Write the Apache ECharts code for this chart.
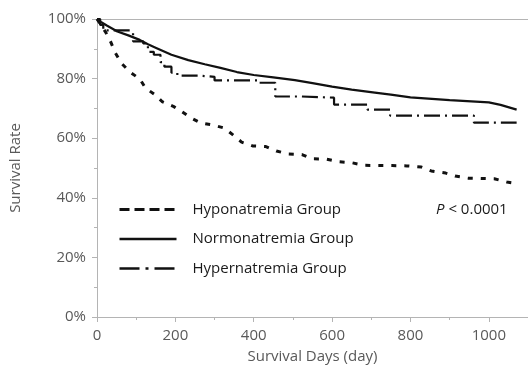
<!DOCTYPE html>
<html>
<head>
<meta charset="utf-8">
<script src="https://cdn.jsdelivr.net/npm/echarts@6/dist/echarts.min.js"></script>
<style>
  html, body { margin: 0; padding: 0; background: #fff; }
  #chart { width: 528px; height: 369px; }
</style>
</head>
<body>
<div id="chart"></div>
<script>
// survival curves, [day, survival %]
const hypoCurve = [
  [0, 100], [22, 95.6], [35, 92.3], [47, 88.6], [62, 85.2], [84, 82.2], [109, 79.9],
  [124, 76.8], [149, 74.5], [166, 72.3], [196, 70.6], [218, 68.8], [240, 66.8],
  [265, 65.1], [297, 64.4], [325, 63.4], [347, 61.1], [369, 58.7], [397, 57.4],
  [431, 57.2], [458, 55.7], [488, 54.7], [523, 54.5], [548, 53.1], [585, 53.0],
  [617, 52.1], [649, 51.8], [682, 50.9], [753, 50.8], [791, 50.7], [828, 50.3],
  [853, 49.0], [890, 48.3], [914, 47.3], [947, 46.6], [1014, 46.4], [1046, 45.3],
  [1071, 44.8]
];
const normoCurve = [
  [0, 100], [10, 99], [25, 97.8], [52, 95.8], [80, 94.5], [109, 93], [130, 91.5],
  [151, 90.3], [190, 88], [233, 86.2], [275, 84.8], [315, 83.6], [357, 82.2],
  [400, 81.2], [450, 80.4], [505, 79.5], [550, 78.5], [600, 77.3], [650, 76.3],
  [704, 75.4], [750, 74.6], [800, 73.7], [900, 72.8], [1000, 72.0], [1030, 71.2],
  [1071, 69.6]
];
const hyperCurve = [
  [0, 100], [8, 98], [16, 96.2], [85, 95.6], [92, 92.5], [118, 91.8], [130, 89],
  [145, 88], [162, 85.5], [172, 84], [190, 82], [205, 81], [260, 80.6], [300, 79.4],
  [410, 78.6], [455, 74], [520, 73.6], [605, 71.3], [690, 69.6], [748, 67.6],
  [962, 65.2], [1071, 65.2]
];
const groupNames = ['Hyponatremia Group', 'Normonatremia Group', 'Hypernatremia Group'];

const chart = echarts.init(document.getElementById('chart'));
const font = '"Open Sans", "Noto Sans", sans-serif';
const axisGray = '#b4b4b4';
const hidden = { opacity: 0, color: 'rgba(0,0,0,0)', borderWidth: 0 };

chart.setOption({
  animation: false,
  color: ['#111', '#111', '#111'],
  grid: { left: 96, top: 19, width: 444, height: 298 },
  legend: {
    orient: 'vertical',
    left: 113,
    top: 197,
    itemWidth: 57,
    itemHeight: 14,
    itemGap: 14.5,
    textStyle: { fontFamily: font, fontSize: 15, color: '#1a1a1a', padding: [0, 0, 0, 11] },
    data: [
      { name: groupNames[0], itemStyle: hidden, lineStyle: { type: [10, 5], width: 3 } },
      { name: groupNames[1], itemStyle: hidden, lineStyle: { type: 'solid', width: 2.5 } },
      { name: groupNames[2], itemStyle: hidden, lineStyle: { type: [20, 6, 3, 6], width: 2.5 } }
    ]
  },
  xAxis: [
    {
      type: 'value',
      min: 0,
      max: 1100,
      interval: 200,
      name: 'Survival Days (day)',
      nameLocation: 'middle',
      nameGap: 32,
      nameTextStyle: { fontFamily: font, fontSize: 15, color: '#595959' },
      axisLine: { lineStyle: { color: axisGray } },
      axisTick: { length: 5, lineStyle: { color: axisGray } },
      minorTick: { show: true, splitNumber: 2, length: 3, lineStyle: { color: axisGray } },
      axisLabel: {
        margin: 11, fontFamily: font, fontSize: 15, color: '#595959', showMaxLabel: false,
        formatter: v => String(v)
      },
      splitLine: { show: false }
    },
    {
      type: 'value',
      position: 'top',
      min: 0,
      max: 1100,
      axisLine: { show: true, lineStyle: { color: axisGray } },
      axisTick: { show: false },
      axisLabel: { show: false },
      splitLine: { show: false }
    }
  ],
  yAxis: {
    type: 'value',
    min: 0,
    max: 100,
    interval: 20,
    name: 'Survival Rate',
    nameLocation: 'middle',
    nameGap: 74,
    nameTextStyle: { fontFamily: font, fontSize: 15, color: '#595959' },
    axisLine: { show: true, lineStyle: { color: axisGray } },
    axisTick: { show: true, length: 5, lineStyle: { color: axisGray } },
    minorTick: { show: true, splitNumber: 2, length: 3, lineStyle: { color: axisGray } },
    axisLabel: { margin: 11, fontFamily: font, fontSize: 15, color: '#595959', formatter: '{value}%' },
    splitLine: { show: false }
  },
  graphic: [{
    type: 'text',
    left: 436,
    top: 202,
    style: {
      text: '{i|P} < 0.0001',
      fontFamily: font,
      fontSize: 15,
      fill: '#1a1a1a',
      rich: { i: { fontStyle: 'italic', fontFamily: font, fontSize: 15, fill: '#1a1a1a' } }
    }
  }],
  series: [
    {
      name: groupNames[0],
      type: 'line',
      data: hypoCurve,
      symbol: 'none',
      itemStyle: { color: '#111' },
      lineStyle: { color: '#111', width: 3, type: [5, 8] },
      z: 3
    },
    {
      name: groupNames[1],
      type: 'line',
      data: normoCurve,
      symbol: 'none',
      itemStyle: { color: '#111' },
      lineStyle: { color: '#111', width: 2.2, type: 'solid' },
      z: 4
    },
    {
      name: groupNames[2],
      type: 'line',
      data: hyperCurve,
      step: 'end',
      symbol: 'none',
      itemStyle: { color: '#111' },
      lineStyle: { color: '#111', width: 2.2, type: [16, 5, 2, 5] },
      z: 3
    }
  ]
});
</script>
</body>
</html>
